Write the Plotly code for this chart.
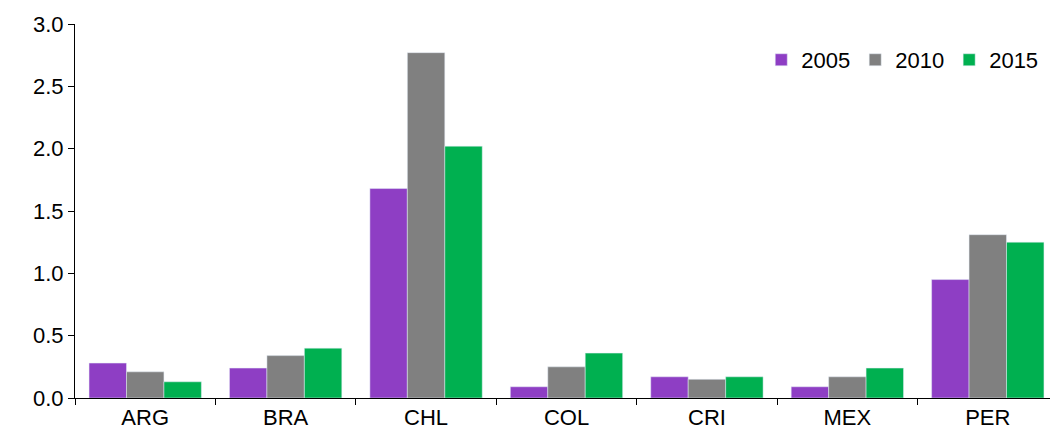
import plotly.graph_objects as go

countries = ['ARG', 'BRA', 'CHL', 'COL', 'CRI', 'MEX', 'PER']
v2005 = [0.28, 0.24, 1.68, 0.09, 0.17, 0.09, 0.95]
v2010 = [0.21, 0.34, 2.77, 0.25, 0.15, 0.17, 1.31]
v2015 = [0.13, 0.40, 2.02, 0.36, 0.17, 0.24, 1.25]

fig = go.Figure()
fig.add_bar(x=countries, y=v2005, name='2005', marker_color='#8E3EC4')
fig.add_bar(x=countries, y=v2010, name='2010', marker_color='#808080')
fig.add_bar(x=countries, y=v2015, name='2015', marker_color='#00B050')

fig.update_layout(
    width=1058, height=438,
    margin=dict(l=67, r=8, t=16, b=48),
    plot_bgcolor='white', paper_bgcolor='white',
    font=dict(family='Liberation Sans, Arial', size=22, color='black'),
    barmode='group', bargap=0.2, bargroupgap=0,
    legend=dict(orientation='h', x=0.985, y=0.96, xanchor='right', yanchor='top',
                font=dict(size=22), itemwidth=30, traceorder='normal',
                tracegroupgap=0),
    xaxis=dict(showline=True, linecolor='black', linewidth=1, ticks='outside',
               tickson='boundaries', ticklen=6, tickcolor='black', mirror=False),
    yaxis=dict(range=[0, 3.0], dtick=0.5, tickformat='.1f', showline=True,
               linecolor='black', linewidth=1, ticks='outside', ticklen=6,
               tickcolor='black', showgrid=False, zeroline=False,
               automargin=False),
)

fig.write_html("out.html")
